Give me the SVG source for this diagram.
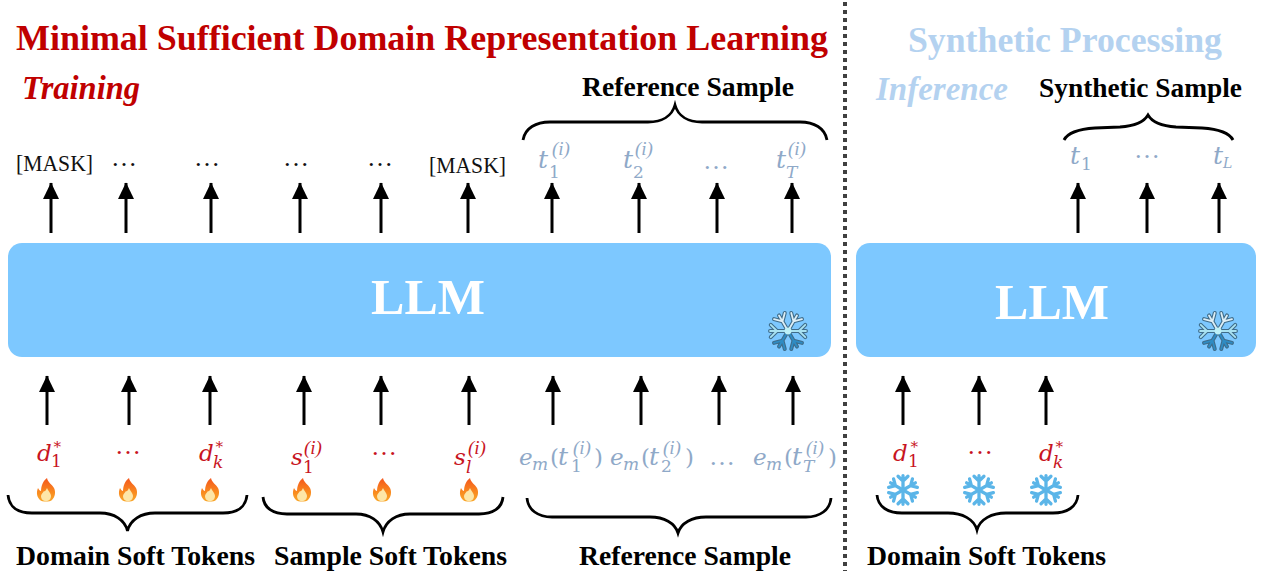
<svg xmlns="http://www.w3.org/2000/svg" width="1262" height="579" viewBox="0 0 1262 579">
<style>
text{font-family:"Liberation Serif","Times New Roman",serif}
.b{font-weight:700;fill:#000;font-size:26.5px}
.h{font-weight:700;font-size:36px}
.i{font-weight:700;font-style:italic;font-size:33px}
.red{fill:#C00000}.lb{fill:#B4D2F0}
.m{font-size:23px;fill:#111}
.v,.s,.n,.u{font-family:"DejaVu Serif","Liberation Serif",serif}
.v{font-style:italic;font-size:23px}
.v.tt{font-size:25px}
.s{font-style:italic;font-size:17px}
.n{font-size:17px}
.u{font-size:15px}
.p{font-style:normal;font-size:23px}
.q{font-style:italic;font-size:19px}
.d{font-size:26px}
.g{fill:#8FA9C8}.r{fill:#C8141E}
.llm{fill:#7DC8FF}
.t{font-weight:700;font-size:50px;fill:#fff;text-anchor:middle}
.ar{stroke:#000;stroke-width:3;fill:none;marker-end:url(#ah)}
.br{stroke:#000;stroke-width:2.8;fill:none}
</style>
<defs>
<marker id="ah" markerUnits="userSpaceOnUse" markerWidth="18" markerHeight="18" refX="16" refY="8.5" orient="auto"><path d="M0 0.5L16.500 8.500L0 16.500Z" fill="#000"/></marker>
<linearGradient id="fl" x1="0" y1="0" x2="0" y2="1"><stop offset="0" stop-color="#F4561E"/><stop offset="0.6" stop-color="#F98A1F"/><stop offset="1" stop-color="#F9A72B"/></linearGradient>
<symbol id="flame" overflow="visible">
<path d="M1 -12C2 -7 6 -6 8 -2C10 2 9 7 6 10C4 12 -4 12 -6 10C-9 7 -10 3 -8 -2C-7 0 -6 1 -5 1C-5 -4 -3 -9 1 -12Z" fill="url(#fl)"/>
<path d="M1 -2C2 1 5 3 5 6C5 9 3 11 0 11C-3 11 -5 9 -5 6C-5 4 -3 3 -2 1C-1 2 0 0 1 -2Z" fill="#FDE6A8"/>
</symbol>
<g id="arm"><path d="M0 0V-13M0 -8L-4.500 -12.500M0 -8L4.500 -12.500"/></g>
<symbol id="flake" overflow="visible">
<g fill="none" stroke="#5BB5E8" stroke-width="3" stroke-linecap="round" transform="scale(1.1)">
<use href="#arm"/><use href="#arm" transform="rotate(60)"/><use href="#arm" transform="rotate(120)"/><use href="#arm" transform="rotate(180)"/><use href="#arm" transform="rotate(240)"/><use href="#arm" transform="rotate(300)"/>
</g>
</symbol>
<symbol id="iceflake" overflow="visible">
<g transform="scale(1.38)">
<g fill="none" stroke="#3F6C8A" stroke-width="2.900" stroke-linecap="round">
<use href="#arm" transform="rotate(30)"/><use href="#arm" transform="rotate(-30)"/><use href="#arm" transform="rotate(90)"/><use href="#arm" transform="rotate(-90)"/><use href="#arm" transform="rotate(150)"/><use href="#arm" transform="rotate(-150)"/>
</g>
<g fill="none" stroke="#A9E2F2" stroke-width="1.300" stroke-linecap="round">
<use href="#arm" transform="rotate(90)"/><use href="#arm" transform="rotate(-90)"/>
</g>
<g fill="none" stroke="#DDEEF6" stroke-width="1.300" stroke-linecap="round"><use href="#arm" transform="rotate(30)"/><use href="#arm" transform="rotate(-30)"/></g>
<g fill="none" stroke="#2E8CC4" stroke-width="1.300" stroke-linecap="round">
<use href="#arm" transform="rotate(150)"/><use href="#arm" transform="rotate(-150)"/>
</g>
<circle r="2.500" fill="#BDF0F7"/>
</g>
</symbol>
</defs>
<rect width="1262" height="579" fill="#fff"/>

<g id="titles">
<text class="h red" x="16" y="50" textLength="812" lengthAdjust="spacingAndGlyphs">Minimal Sufficient Domain Representation Learning</text>
<text class="i red" x="22" y="99" textLength="118" lengthAdjust="spacingAndGlyphs">Training</text>
<text class="h lb" x="908" y="52" textLength="314" lengthAdjust="spacingAndGlyphs">Synthetic Processing</text>
<text class="i lb" x="876" y="100" textLength="132" lengthAdjust="spacingAndGlyphs">Inference</text>
</g>

<g id="divider"><line x1="845" y1="2" x2="845" y2="571" stroke="#404040" stroke-width="4" stroke-dasharray="4 4"/></g>

<g id="llm-train"><rect class="llm" x="8" y="243" width="823" height="114" rx="14"/><text class="t" x="428" y="314">LLM</text><use href="#iceflake" x="788" y="331"/></g>
<g id="llm-infer"><rect class="llm" x="856" y="243" width="400" height="114" rx="14"/><text class="t" x="1052" y="319">LLM</text><use href="#iceflake" x="1218" y="331"/></g>

<g id="connectors">
<path class="ar" d="M51 233V183"/><path class="ar" d="M126 233V183"/><path class="ar" d="M211 233V183"/><path class="ar" d="M300 233V183"/><path class="ar" d="M381 233V183"/><path class="ar" d="M468 233V183"/><path class="ar" d="M552 233V183"/><path class="ar" d="M639 233V183"/><path class="ar" d="M717 233V183"/><path class="ar" d="M792 233V183"/>
<path class="ar" d="M1078 233V183"/><path class="ar" d="M1147 233V183"/><path class="ar" d="M1219 233V183"/>
<path class="ar" d="M47 425V376"/><path class="ar" d="M129 425V376"/><path class="ar" d="M210 425V376"/><path class="ar" d="M304 425V376"/><path class="ar" d="M381 425V376"/><path class="ar" d="M469 425V376"/><path class="ar" d="M553 425V376"/><path class="ar" d="M641 425V376"/><path class="ar" d="M719 425V376"/><path class="ar" d="M793 425V376"/>
<path class="ar" d="M903 425V376"/><path class="ar" d="M979 425V376"/><path class="ar" d="M1046 425V376"/>
</g>

<g id="braces">
<path class="br" d="M523 140C525 128 536 122 550 122L648 122C662 122 672 116 675 105C678 116 688 122 702 122L800 122C814 122 825 128 827 140"/>
<path class="br" d="M1064 140C1068 132 1080 129 1095 128L1120 127C1134 126 1144 122 1148 115C1152 122 1162 126 1176 127L1202 128C1217 129 1229 132 1233 140"/>
<path class="br" d="M8 495C9 507 18 513 32 513L100 513C114 513 125 520 127.500 531C130 520 141 513 155 513L223 513C237 513 246 507 247 495"/>
<path class="br" d="M263 497C264 508 273 514 287 514L356 514C370 514 380 521 383 532C386 521 396 514 410 514L479 514C493 514 502 508 503 497"/>
<path class="br" d="M527 498C528 510 538 517 552 517L650 517C664 517 675 523 678 533C681 523 692 517 706 517L806 517C820 517 830 510 831 498"/>
<path class="br" d="M877 495C878 507 888 513 902 513L948 513C962 513 974 519 977 530C980 519 992 513 1006 513L1053 513C1067 513 1077 507 1078 495"/>
</g>

<g id="labels">
<text class="b" x="582" y="96" textLength="212" lengthAdjust="spacingAndGlyphs">Reference Sample</text>
<text class="b" x="1039" y="97" textLength="203" lengthAdjust="spacingAndGlyphs">Synthetic Sample</text>
<text class="b" x="16" y="565" textLength="239" lengthAdjust="spacingAndGlyphs">Domain Soft Tokens</text>
<text class="b" x="274" y="565" textLength="233" lengthAdjust="spacingAndGlyphs">Sample Soft Tokens</text>
<text class="b" x="579" y="565" textLength="212" lengthAdjust="spacingAndGlyphs">Reference Sample</text>
<text class="b" x="867" y="565" textLength="239" lengthAdjust="spacingAndGlyphs">Domain Soft Tokens</text>
</g>

<g id="outputs-train">
<text class="m" x="16" y="171" textLength="77" lengthAdjust="spacingAndGlyphs">[MASK]</text>
<text class="d" x="111" y="166" fill="#111">…</text>
<text class="d" x="194" y="166" fill="#111">…</text>
<text class="d" x="283" y="166" fill="#111">…</text>
<text class="d" x="367" y="166" fill="#111">…</text>
<text class="m" x="429" y="173" textLength="77" lengthAdjust="spacingAndGlyphs">[MASK]</text>
<g class="g">
<text class="v tt" x="538" y="168">t</text><text class="n" x="549" y="178">1</text><text class="q" x="552" y="155">(i)</text>
<text class="v tt" x="623" y="168">t</text><text class="n" x="633" y="178">2</text><text class="q" x="635" y="155">(i)</text>
<text class="d" x="703" y="169">…</text>
<text class="v tt" x="776" y="168">t</text><text class="s" x="786" y="178">T</text><text class="q" x="788" y="155">(i)</text>
</g>
</g>

<g id="outputs-infer" class="g">
<text class="v tt" x="1070" y="164">t</text><text class="n" x="1081" y="170">1</text>
<text class="d" x="1134" y="158">…</text>
<text class="v tt" x="1213" y="164">t</text><text class="s" x="1223" y="168" style="font-size:14px">L</text>
</g>

<g id="inputs-domain" class="r">
<text class="v" x="37" y="461">d</text><text class="n" x="51" y="467">1</text><text class="u" x="52" y="449">∗</text>
<text class="d" x="115" y="454">…</text>
<text class="v" x="199" y="461">d</text><text class="s" x="213" y="468">k</text><text class="u" x="214" y="449">∗</text>
</g>
<g id="inputs-sample" class="r">
<text class="v" x="291" y="465">s</text><text class="n" x="303" y="473">1</text><text class="q" x="304" y="454">(i)</text>
<text class="d" x="371" y="455">…</text>
<text class="v" x="454" y="465">s</text><text class="s" x="466" y="473">l</text><text class="q" x="468" y="454">(i)</text>
</g>
<g id="inputs-reference" class="g">
<text class="v" x="519" y="465">e</text><text class="s" x="532" y="470">m</text><text class="p v" x="550" y="465">(</text><text class="v tt" x="558" y="465">t</text><text class="n" x="571" y="472">1</text><text class="q" x="573" y="454">(i)</text><text class="p v" x="594" y="465">)</text>
<text class="v" x="610" y="465">e</text><text class="s" x="623" y="470">m</text><text class="p v" x="641" y="465">(</text><text class="v tt" x="649" y="465">t</text><text class="n" x="661" y="472">2</text><text class="q" x="663" y="454">(i)</text><text class="p v" x="685" y="465">)</text>
<text class="d" x="709" y="465">…</text>
<text class="v" x="753" y="465">e</text><text class="s" x="766" y="470">m</text><text class="p v" x="784" y="465">(</text><text class="v tt" x="792" y="465">t</text><text class="s" x="803" y="472">T</text><text class="q" x="806" y="454">(i)</text><text class="p v" x="828" y="465">)</text>
</g>
<g id="inputs-infer" class="r">
<text class="v" x="893" y="461">d</text><text class="n" x="908" y="467">1</text><text class="u" x="909" y="449">∗</text>
<text class="d" x="967" y="454">…</text>
<text class="v" x="1039" y="461">d</text><text class="s" x="1053" y="468">k</text><text class="u" x="1054" y="449">∗</text>
</g>

<g id="flames">
<use href="#flame" x="46" y="490"/><use href="#flame" x="128" y="490"/><use href="#flame" x="210" y="490"/><use href="#flame" x="302" y="490"/><use href="#flame" x="382" y="490"/><use href="#flame" x="469" y="490"/>
</g>
<g id="snowflakes">
<use href="#flake" x="903" y="490"/><use href="#flake" x="979" y="490"/><use href="#flake" x="1046" y="490"/>
</g>
</svg>
